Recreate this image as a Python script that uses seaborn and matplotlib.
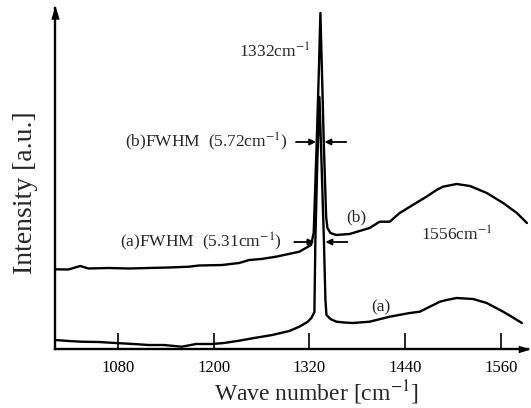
import matplotlib
matplotlib.use("Agg")
import matplotlib.pyplot as plt
import seaborn as sns
import pandas as pd

# Raman spectra (wave number in cm^-1, intensity in a.u.)
wave_a = [1001.5, 1017.8, 1034.2, 1055.6, 1077.0, 1099.6, 1118.5, 1137.4, 1160.0, 1177.7,
          1197.8, 1212.9, 1231.8, 1250.7, 1273.3, 1294.7, 1307.3, 1317.4, 1322.4, 1326.2,
          1327.4, 1329.9, 1332.5, 1335.0, 1338.1, 1340.0, 1341.3, 1346.3, 1353.9, 1363.9,
          1374.0, 1395.4, 1420.6, 1445.7, 1458.3, 1470.9, 1483.5, 1491.9, 1504.5, 1525.0,
          1542.3, 1562.8, 1574.1, 1586.3]
intensity_a = [9.0, 8.0, 7.3, 7.0, 6.0, 5.0, 4.0, 4.0, 2.3, 5.0,
               5.0, 6.0, 8.3, 11.0, 14.0, 18.0, 22.3, 27.0, 31.0, 37.0,
               109.0, 189.0, 252.0, 189.0, 109.0, 49.0, 34.0, 30.0, 27.3, 26.5,
               26.0, 27.3, 32.3, 36.0, 37.3, 42.3, 47.3, 49.0, 51.0, 50.0,
               46.0, 37.3, 32.0, 26.0]

wave_b = [1001.5, 1017.8, 1032.6, 1043.0, 1068.2, 1093.3, 1118.5, 1143.7, 1168.9, 1181.4,
          1210.4, 1231.8, 1244.4, 1259.5, 1278.0, 1307.3, 1322.0, 1325.3, 1329.1, 1331.8,
          1333.7, 1335.6, 1337.9, 1340.9, 1342.5, 1346.3, 1353.5, 1370.2, 1395.4, 1408.0,
          1420.6, 1433.1, 1449.5, 1466.7, 1479.3, 1487.3, 1504.5, 1521.2, 1542.3, 1562.8,
          1580.0, 1592.6]
intensity_b = [79.7, 79.5, 83.0, 80.5, 81.0, 80.5, 81.0, 81.5, 82.3, 83.5,
               84.0, 86.0, 89.0, 90.0, 92.3, 97.3, 104.0, 116.0, 207.0, 279.0,
               336.0, 279.0, 207.0, 132.3, 121.0, 116.0, 114.0, 115.0, 121.0, 127.3,
               127.3, 136.0, 144.0, 152.3, 159.0, 162.3, 165.0, 163.0, 156.0, 146.0,
               136.0, 126.0]

xticks = [1080, 1200, 1320, 1440, 1560]

df = pd.concat([
    pd.DataFrame({"wave": wave_a, "intensity": intensity_a, "sample": "a"}),
    pd.DataFrame({"wave": wave_b, "intensity": intensity_b, "sample": "b"}),
])

sns.set_style("white")
plt.rcParams["font.family"] = ["Liberation Serif", "DejaVu Serif"]
plt.rcParams["mathtext.fontset"] = "stix"

fig = plt.figure(figsize=(5.31, 4.08), dpi=100)
ax = fig.add_axes([0.1036, 0.1446, 0.8908, 0.8358])

sns.lineplot(data=df, x="wave", y="intensity", units="sample", estimator=None,
             color="black", linewidth=1.7, ax=ax, legend=False)

ax.set_xlim(1001, 1594)
ax.set_ylim(0, 341)

# axes look: only left/bottom lines with arrow heads, inward ticks
sns.despine(ax=ax)
for side in ["left", "bottom"]:
    ax.spines[side].set_linewidth(1.7)
    ax.spines[side].set_color("black")
ax.plot(0, 1, marker=[(-1, -3.2), (0, 0), (1, -3.2)], markersize=16, color="black",
        transform=ax.transAxes, clip_on=False)
ax.plot(1, 0, marker=[(-3.2, -1), (0, 0), (-3.2, 1)], markersize=14, color="black",
        transform=ax.transAxes, clip_on=False)

ax.set_xticks(xticks)
ax.set_yticks([])
ax.tick_params(axis="x", direction="in", length=11.5, width=1.2, pad=8,
               labelsize=12, colors="black", bottom=True)

ax.set_xlabel("Wave number [cm$^{-1}$]", fontsize=17)
ax.xaxis.set_label_coords(0.552, -0.088)
ax.set_ylabel("Intensity [a.u.]", fontsize=20)
ax.yaxis.set_label_coords(-0.036, 0.457)

# annotations
fs = 12.5
ax.text(1277, 297, "1332cm$^{-1}$", fontsize=fs, ha="center", va="center")
ax.text(1292, 207, "(b)FWHM  (5.72cm$^{-1}$)", fontsize=fs, ha="right", va="center")
ax.text(1286, 107, "(a)FWHM  (5.31cm$^{-1}$)", fontsize=fs, ha="right", va="center")
ax.text(1379, 132, "(b)", fontsize=fs, ha="center", va="center")
ax.text(1504, 114, "1556cm$^{-1}$", fontsize=fs, ha="center", va="center")
ax.text(1410, 42, "(a)", fontsize=fs, ha="center", va="center")

arrow = dict(arrowstyle="-|>", color="black", lw=1.3, mutation_scale=9,
             shrinkA=0, shrinkB=0)
ax.annotate("", xy=(1328.3, 207), xytext=(1303.1, 207), arrowprops=arrow)
ax.annotate("", xy=(1338.8, 207), xytext=(1366.1, 207), arrowprops=arrow)
ax.annotate("", xy=(1326.2, 107), xytext=(1301.0, 107), arrowprops=arrow)
ax.annotate("", xy=(1340.0, 107), xytext=(1367.7, 107), arrowprops=arrow)

fig.savefig("out.png", dpi=100)
